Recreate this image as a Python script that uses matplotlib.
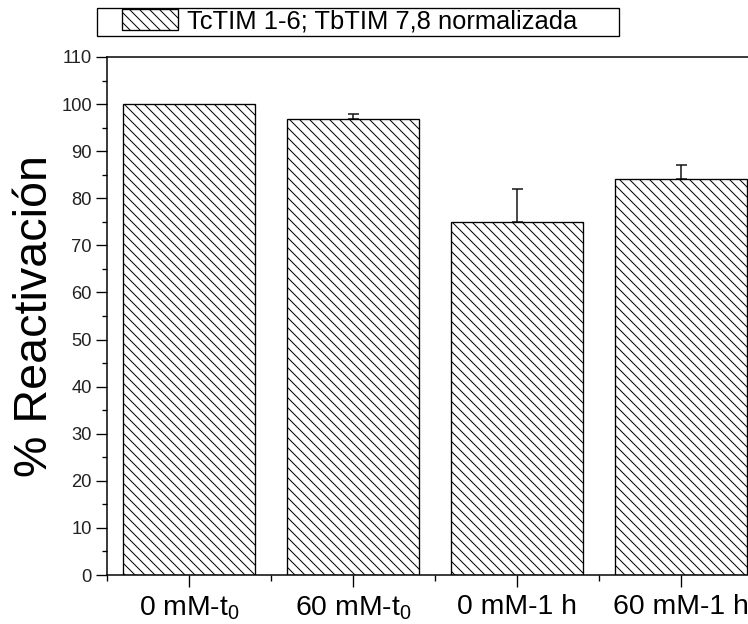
import matplotlib
matplotlib.use('Agg')

import matplotlib.pyplot as plt
from matplotlib.patches import Rectangle
from matplotlib.ticker import MultipleLocator, FixedLocator

# data
categories = [r'0 mM-t$_\mathregular{0}$', r'60 mM-t$_\mathregular{0}$',
              '0 mM-1 h', '60 mM-1 h']
reactivation = [100.0, 96.8, 74.9, 84.1]
errors = [0.0, 1.1, 7.0, 3.0]
legend_label = 'TcTIM 1-6; TbTIM 7,8 normalizada'

plt.rcParams['font.family'] = ['Liberation Sans', 'DejaVu Sans']
plt.rcParams['mathtext.fontset'] = 'custom'
plt.rcParams['mathtext.rm'] = 'Liberation Sans'
plt.rcParams['hatch.linewidth'] = 0.6

dpi = 120
W, H = 748, 624
fig = plt.figure(figsize=(W / dpi, H / dpi), dpi=dpi)

# axes run past the right edge of the picture, as in the reference
ax = fig.add_axes([107 / W, 1 - 575 / H, 656 / W, 518 / H])

x = list(range(len(categories)))
bars = ax.bar(x, reactivation, width=0.8, color='white', edgecolor='black',
              linewidth=0.8, hatch='\\\\\\\\', label=legend_label, zorder=2)

# only upper error bars, and none where the error is zero
ex = [i for i in x if errors[i] > 0]
ey = [reactivation[i] for i in ex]
ee = [errors[i] for i in ex]
ax.errorbar(ex, ey, yerr=[[0] * len(ee), ee], fmt='none',
            ecolor='#111111', elinewidth=0.9, capsize=3.3, capthick=0.9, zorder=1)

ax.set_xlim(-0.5, 3.5)
ax.set_ylim(0, 110)

ax.set_xticks(x)
ax.set_xticklabels(categories, fontsize=17)
ax.xaxis.set_minor_locator(FixedLocator([-0.5, 0.5, 1.5, 2.5, 3.5]))
ax.yaxis.set_major_locator(MultipleLocator(10))
ax.yaxis.set_minor_locator(MultipleLocator(5))
ax.tick_params(axis='x', which='major', length=7, width=0.8, pad=4.5)
ax.tick_params(axis='x', which='minor', length=3.5, width=0.8)
ax.tick_params(axis='y', which='major', length=6.5, width=0.8, pad=2.5,
               labelsize=11, labelcolor='#222222')
ax.tick_params(axis='y', which='minor', length=3.2, width=0.8)

for s in ax.spines.values():
    s.set_linewidth(0.9)

ax.set_ylabel('% Reactivación', fontsize=28)
ax.yaxis.set_label_coords(-0.076, 0.5)

# legend box at the top
leg = fig.legend(handles=[bars], labels=[legend_label], loc='upper left',
                 bbox_to_anchor=(122 / W, 1 - 9 / H), frameon=False,
                 fontsize=15.3, handlelength=2.2, handleheight=0.86,
                 handletextpad=0.36, borderpad=0, borderaxespad=0)
fig.patches.append(Rectangle((97 / W, 1 - 36 / H), (619 - 97) / W, 28 / H,
                             transform=fig.transFigure, fill=False,
                             edgecolor='black', linewidth=0.8))

fig.savefig('out.png', dpi=dpi)
